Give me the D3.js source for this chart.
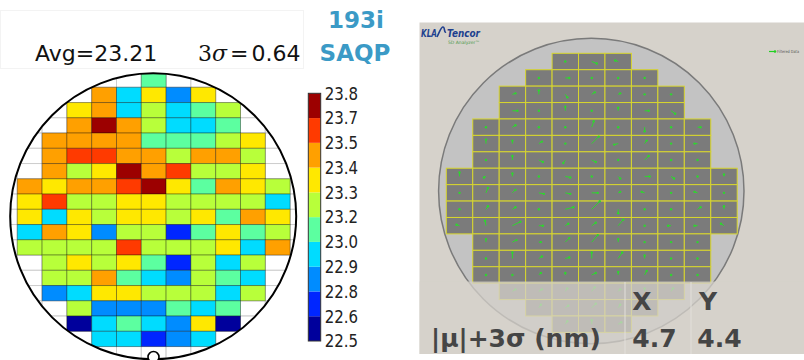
<!DOCTYPE html>
<html><head><meta charset="utf-8">
<script src="https://cdn.jsdelivr.net/npm/d3@7"></script>
<style>body{margin:0;background:#fff}svg{display:block}text{font-family:"DejaVu Sans",sans-serif}</style>
</head><body>
<svg id="c" width="804" height="360"></svg>
<script>
// ---------- Left panel data: CD wafer map (nm), rows top->bottom, 11 columns ----------
const waferRows = [
 [null,null,null,null,null,23.08,null,null,null,null,null],
 [null,null,null,23.47,22.95,23.34,22.82,23.34,null,null,null],
 [null,null,23.34,23.47,22.95,23.21,22.95,23.08,23.21,null,null],
 [null,null,23.47,23.73,23.47,23.21,22.95,22.95,23.08,null,null],
 [null,23.47,23.47,23.47,23.47,23.08,23.08,23.08,23.21,23.34,null],
 [null,23.47,23.60,23.60,23.47,23.47,23.21,23.47,23.47,23.21,null],
 [null,23.47,23.21,23.34,23.73,23.47,23.60,23.21,23.21,23.34,null],
 [23.47,23.34,23.47,23.47,23.60,23.73,23.34,23.08,23.47,23.34,23.21],
 [23.34,23.60,23.21,23.21,23.34,23.34,23.21,23.21,23.21,23.21,22.95],
 [23.34,22.95,23.34,23.21,23.34,23.34,23.21,23.34,23.08,23.47,23.34],
 [22.95,23.47,23.34,22.82,23.21,23.21,22.69,23.08,23.34,23.08,23.21],
 [23.21,23.21,23.21,23.21,23.60,23.21,23.21,23.21,23.34,22.95,23.47],
 [null,23.21,23.34,23.21,23.34,23.08,22.69,23.21,22.95,23.21,null],
 [null,23.21,23.21,23.47,23.08,22.95,22.82,23.21,23.08,22.95,null],
 [null,22.82,22.95,23.34,23.34,23.21,23.21,23.21,22.95,23.21,null],
 [null,null,23.21,22.82,22.82,22.82,23.08,22.95,23.08,null,null],
 [null,null,22.56,22.95,23.08,22.95,22.82,23.34,22.56,null,null],
 [null,null,null,22.95,22.95,22.69,22.82,22.95,null,null,null]
];
const cbLabels = ["22.5","22.6","22.8","22.9","23.0","23.2","23.3","23.4","23.5","23.7","23.8"];
const cbColors = ["#00009c","#0026ff","#008cff","#00dcff","#5cffa0","#b8ff3a","#ffe800","#ffa000","#ff3a00","#9c0000"];
const avgText = "Avg=23.21";
const sigmaValue = "0.64";

// ---------- Right panel data: overlay vectors per die (px-ish), rows top->bottom ----------
const dieRowStart = [4,3,2,2,1,1,1,0,0,0,0,1,1,1,2,3,4];
const dieVecX = [
 [0,5,-3],[0,4,0,0,0],[3,0,2,3,2,0,0],[5,0,0,0,0,4,4],
 [0,3,0,0,2,0,0,0,3],[0,0,3,0,7,-4,2,0,-3],[0,0,4,-2,4,0,4,0,0],
 [0,-2,0,0,5,0,2,5,3,0,0],[0,2,3,5,5,6,2,-3,0,-3,0],[0,2,3,0,8,8,0,0,0,3,0],
 [-3,-1,8,4,3,4,5,0,-3,-3,-3],[0,4,2,4,6,0,0,0,0],[0,0,3,4,0,4,0,0,0],
 [0,0,2,0,4,0,2,0,0],[3,3,2,3,2,0,2],[2,3,4,2,0],[2,0,3]
];
const dieVecY = [
 [0,2,-1],[0,0,0,0,0],[-1,-4,3,-2,-1,0,0],[0,0,-4,0,-3,0,3],
 [0,-2,0,0,-6,0,4,0,0],[-4,-3,-2,0,-7,1,-3,0,0],[0,-4,2,3,2,0,-4,0,0],
 [-4,1,-3,0,1,0,2,0,2,0,-2],[0,-5,-3,1,1,0,-1,-1,0,-1,0],[0,-3,-2,0,-2,-8,4,0,0,-2,-3],
 [-1,-5,-4,0,-2,-3,-6,0,0,0,-2],[-3,-2,0,-4,-7,-3,0,0,0],[0,-6,-2,-1,-6,-6,-3,0,0],
 [0,0,-2,-2,-2,-3,-4,0,0],[-2,-2,-3,-4,-2,-3,-3],[-3,-2,-4,-3,-3],[-3,-4,-2]
];
const tableCols = ["X","Y"];
const tableRowLabel = "|μ|+3σ (nm)";
const tableValues = ["4.7","4.4"];

const svg = d3.select("#c");

// ================= LEFT PANEL =================
const nCols = 11, nRows = waferRows.length;
const xL = d3.scaleLinear().domain([0, nCols]).range([17.3, 290.1]);
const yL = d3.scaleLinear().domain([0, nRows]).range([72.05, 346.55]);
const color = d3.scaleQuantize().domain([22.5, 23.8]).range(cbColors);
const wc = {x:153.2, y:216.3, r:143};

// title box (very faint)
svg.append("rect").attr("x",0.5).attr("y",10.5).attr("width",303).attr("height",58)
  .attr("fill","none").attr("stroke","#f3f3f3");
svg.append("text").attr("x",35).attr("y",60.5).attr("font-size",22).attr("fill","#111").text(avgText);
const sig = svg.append("text").attr("x",198).attr("y",60.5).attr("font-size",22).attr("fill","#111");
sig.append("tspan").attr("font-family","DejaVu Serif").text("3");
sig.append("tspan").attr("font-family","DejaVu Serif").attr("font-style","italic").text("σ");
sig.append("tspan").attr("font-family","DejaVu Serif").attr("dx",3).text("=");
sig.append("tspan").attr("dx",3).attr("font-size",22).text(sigmaValue);

svg.append("text").attr("x",356).attr("y",28).attr("text-anchor","middle").attr("font-size",23)
  .attr("font-weight","bold").attr("fill","#3b9ac6").text("193i");
svg.append("text").attr("x",355).attr("y",61).attr("text-anchor","middle").attr("font-size",23)
  .attr("font-weight","bold").attr("fill","#3b9ac6").text("SAQP");

svg.append("clipPath").attr("id","wclip").append("circle")
  .attr("cx",wc.x).attr("cy",wc.y).attr("r",wc.r);
const gw = svg.append("g").attr("clip-path","url(#wclip)");
// background grid
const bg = [];
for (let r = 0; r < nRows + 1; r++) for (let c = -1; c < nCols + 1; c++) bg.push({r, c});
gw.selectAll("rect.bg").data(bg).join("rect").attr("class","bg")
  .attr("x",d=>xL(d.c)).attr("y",d=>yL(d.r))
  .attr("width",xL(1)-xL(0)).attr("height",yL(1)-yL(0))
  .attr("fill","#fff").attr("stroke","#cdcdcd").attr("stroke-width",1);
const cells = [];
waferRows.forEach((row, r) => row.forEach((v, c) => { if (v !== null) cells.push({r, c, v}); }));
gw.selectAll("rect.cell").data(cells).join("rect").attr("class","cell")
  .attr("x",d=>xL(d.c)).attr("y",d=>yL(d.r))
  .attr("width",xL(1)-xL(0)).attr("height",yL(1)-yL(0))
  .attr("fill",d=>color(d.v)).attr("stroke","rgba(0,0,0,0.32)").attr("stroke-width",1);
svg.append("circle").attr("cx",wc.x).attr("cy",wc.y).attr("r",wc.r)
  .attr("fill","none").attr("stroke","#000").attr("stroke-width",2);
svg.append("circle").attr("cx",153.5).attr("cy",357).attr("r",5.5)
  .attr("fill","#fff").attr("stroke","#000").attr("stroke-width",1.6);

// colorbar
const cbTop = 93.3, cbBot = 341, cbX = 308.3, cbW = 12.4;
const cbIdx = d3.scaleLinear().domain([0, cbColors.length]).range([cbBot, cbTop]);
svg.selectAll("rect.cb").data(cbColors).join("rect").attr("class","cb")
  .attr("x",cbX).attr("y",(d,i)=>cbIdx(i+1)).attr("width",cbW)
  .attr("height",(d,i)=>cbIdx(i)-cbIdx(i+1)).attr("fill",d=>d);
svg.append("rect").attr("x",cbX).attr("y",cbTop).attr("width",cbW).attr("height",cbBot-cbTop)
  .attr("fill","none").attr("stroke","#333").attr("stroke-width",1);
const cbPos = d3.scalePoint().domain(cbLabels).range([cbBot, cbTop]);
const cbAxis = svg.append("g").attr("transform",`translate(${cbX+cbW},0)`)
  .call(d3.axisRight(cbPos).tickSize(0).tickPadding(4));
cbAxis.select(".domain").remove();
cbAxis.selectAll("text").attr("font-size",15).attr("fill","#222")
  .attr("font-family","DejaVu Sans").attr("transform","scale(1,1.2)");

// ================= RIGHT PANEL =================
svg.append("rect").attr("x",419.5).attr("y",22.5).attr("width",385).attr("height",331.5)
  .attr("fill","#d6d2cb");
const rc = {x:591.3, y:191, r:152.7};
svg.append("circle").attr("cx",rc.x).attr("cy",rc.y).attr("r",rc.r)
  .attr("fill","#c3c3c3").attr("stroke","#7a7a7a").attr("stroke-width",1.5);
const xR = d3.scaleLinear().domain([0, 11]).range([446.3, 737.2]);
const yR = d3.scaleLinear().domain([0, 17]).range([53.3, 332.4]);
const dies = [];
dieVecX.forEach((row, r) => row.forEach((vx, k) => dies.push({r, c: dieRowStart[r] + k, vx, vy: dieVecY[r][k]})));
const gd = svg.append("g");
gd.selectAll("rect.die").data(dies).join("rect").attr("class","die")
  .attr("x",d=>xR(d.c)).attr("y",d=>yR(d.r))
  .attr("width",xR(1)-xR(0)).attr("height",yR(1)-yR(0))
  .attr("fill","#7b7b7b").attr("stroke","#d8d62e").attr("stroke-width",1);
const vg = gd.selectAll("g.vec").data(dies).join("g").attr("class","vec")
  .attr("transform",d=>`translate(${(xR(d.c)+xR(d.c+1))/2},${(yR(d.r)+yR(d.r+1))/2})`);
vg.append("line").attr("x1",0).attr("y1",0).attr("x2",d=>d.vx).attr("y2",d=>d.vy)
  .attr("stroke","#2ed62e").attr("stroke-width",1);
vg.append("circle").attr("cx",d=>d.vx).attr("cy",d=>d.vy).attr("r",1.2).attr("fill","#2ed62e");

// fade overlay of lower part
svg.append("rect").attr("x",419.5).attr("y",281.5).attr("width",385).attr("height",72.5)
  .attr("fill","#d6d2cb").attr("opacity",0.75);
svg.append("line").attr("x1",625).attr("x2",625).attr("y1",282).attr("y2",354).attr("stroke","#e2dfda");
svg.append("line").attr("x1",691).attr("x2",691).attr("y1",282).attr("y2",354).attr("stroke","#e2dfda");

// logo
svg.append("text").attr("x",421).attr("y",37).attr("font-size",11).attr("font-weight","bold")
  .attr("font-style","italic").attr("fill","#203f8e").attr("textLength",16).attr("lengthAdjust","spacingAndGlyphs").text("KLA");
svg.append("path").attr("d","M437,37 C440,31 441,27 443,27 C445,27 444,33 446,32")
  .attr("fill","none").attr("stroke","#203f8e").attr("stroke-width",1.6);
svg.append("text").attr("x",447).attr("y",37).attr("font-size",11).attr("font-weight","bold")
  .attr("font-style","italic").attr("fill","#203f8e").attr("textLength",33).attr("lengthAdjust","spacingAndGlyphs").text("Tencor");
svg.append("text").attr("x",448).attr("y",43.5).attr("font-size",4.5).attr("fill","#4c9a4c").text("5D Analyzer™");
// legend
svg.append("line").attr("x1",769).attr("x2",775).attr("y1",51.5).attr("y2",51.5).attr("stroke","#22d022").attr("stroke-width",1.2);
svg.append("circle").attr("cx",775).attr("cy",51.5).attr("r",1.3).attr("fill","#22d022");
svg.append("text").attr("x",777).attr("y",53).attr("font-size",4.2).attr("fill","#555")
  .attr("textLength",22).attr("lengthAdjust","spacingAndGlyphs").text("Filtered Data");

// table text
const tcx = [642, 708];
svg.selectAll("text.th").data(tableCols).join("text").attr("class","th")
  .attr("x",(d,i)=>tcx[i]).attr("y",310).attr("text-anchor","middle")
  .attr("font-size",25).attr("font-weight","bold").attr("fill","#454545").text(d=>d);
svg.append("text").attr("x",431).attr("y",347).attr("font-size",25).attr("font-weight","bold")
  .attr("fill","#454545").text(tableRowLabel);
const tvx = [654.5, 719.5];
svg.selectAll("text.tv").data(tableValues).join("text").attr("class","tv")
  .attr("x",(d,i)=>tvx[i]).attr("y",347).attr("text-anchor","middle")
  .attr("font-size",25).attr("font-weight","bold").attr("fill","#454545").text(d=>d);
</script>
</body></html>
